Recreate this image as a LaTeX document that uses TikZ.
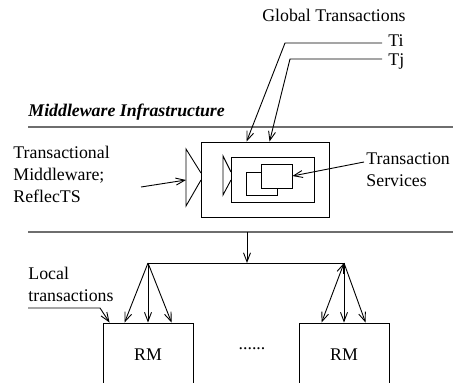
\documentclass[tikz,border=0pt]{standalone}
\usepackage{fontspec}
\setmainfont{Liberation Serif}
\usetikzlibrary{arrows.meta}
\begin{document}
\begin{tikzpicture}[x=1pt,y=-1pt,
  font=\fontsize{17.8}{22}\selectfont,
  line width=0.9pt,
  tip/.style={-{Straight Barb[length=9pt,width=7pt]}},
  bothtip/.style={{Straight Barb[length=9pt,width=7pt]}-{Straight Barb[length=9pt,width=7pt]}},
  box/.style={draw, rectangle, inner sep=0pt, fill=white},
  lbl/.style={inner sep=0pt, align=left},
  rule/.style={draw=black!57, line width=1.8pt}]
\useasboundingbox (0,0) rectangle (453,383);
\clip (0,0) rectangle (453,383);

% global transactions entering from above
\node[lbl] (gt) at (334,15) {Global Transactions};
\node[lbl, anchor=west] (ti) at (388,41) {Ti};
\node[lbl, anchor=west] (tj) at (388,62) {Tj};

% middleware layer boundaries
\coordinate (r1a) at (28,127);  \coordinate (r1b) at (453,127);
\coordinate (r2a) at (28,232);  \coordinate (r2b) at (453,232);
\draw[rule] (r1a) -- (r1b);
\draw[rule] (r2a) -- (r2b);
\node[lbl, anchor=south west, font=\fontsize{17.8}{22}\selectfont\bfseries\itshape] (mi) at (28,121) {Middleware Infrastructure};

% transactional middleware container and transaction services
\node[box, minimum width=128pt, minimum height=75pt] (outer) at (265,179.5) {};
\node[box, minimum width=83pt, minimum height=45pt] (inner) at (272.5,179.5) {};
\node[box, minimum width=31pt, minimum height=23pt] (back) at (261.5,183.5) {};
\node[box, minimum width=31pt, minimum height=24pt] (front) at (276.5,176) {};

% interface funnels
\draw (201,173) -- (186,149) -- (186,206) -- (201,180);
\draw (231,172) -- (223,156) -- (223,195) -- (231,180);

% Ti and Tj paths into the container
\coordinate (tibend) at (285,43);
\coordinate (tjbend) at (290,59);
\draw[tip] ([xshift=-6pt]ti.west |- 0,43) -- (tibend) -- ([xshift=46pt]outer.north west);
\draw[tip] ([xshift=-6pt]tj.west |- 0,59) -- (tjbend) -- ([xshift=69pt]outer.north west);

% left label
\node[lbl, anchor=west] (tm) at (13,174) {Transactional\\Middleware;\\ReflecTS};
\coordinate (tmarrow) at (141,187);
\draw[tip] (tmarrow) -- (186,180);

% right label
\node[lbl, anchor=west] (ts) at (366,170) {Transaction\\Services};
\coordinate (tsarrow) at (364,162);
\draw[tip] (tsarrow) -- (front.east);

% distribution to the resource managers
\coordinate (down) at (247,232);
\coordinate (bus) at (247,263);
\coordinate (busl) at (148,263);
\coordinate (busr) at (344,263);
\draw[tip] (down) -- (bus);
\draw (busl) -- (busr);

\node[box, minimum width=90pt, minimum height=70pt] (rm1) at (148,358) {};
\node[box, minimum width=90pt, minimum height=70pt] (rm2) at (344,358) {};
\node[lbl] (rm1t) at (148,355) {RM};
\node[lbl] (rm2t) at (344,355) {RM};
\node[lbl] (dots) at (252,349) {......};

\draw[tip] (busl) -- ([xshift=22pt]rm1.north west);
\draw[tip] (busl) -- (rm1.north);
\draw[tip] (busl) -- ([xshift=69pt]rm1.north west);
\draw[bothtip] ([xshift=23pt]rm2.north west) -- (busr);
\draw[tip] (busr) -- (rm2.north);
\draw[tip] (busr) -- ([xshift=67pt]rm2.north west);

% local transactions
\node[lbl, anchor=west] (lt) at (28,284) {Local\\transactions};
\coordinate (lta) at (28,308);
\coordinate (ltb) at (100,308);
\draw[tip] (lta) -- (ltb) -- ([xshift=7pt]rm1.north west);
\end{tikzpicture}
\end{document}
